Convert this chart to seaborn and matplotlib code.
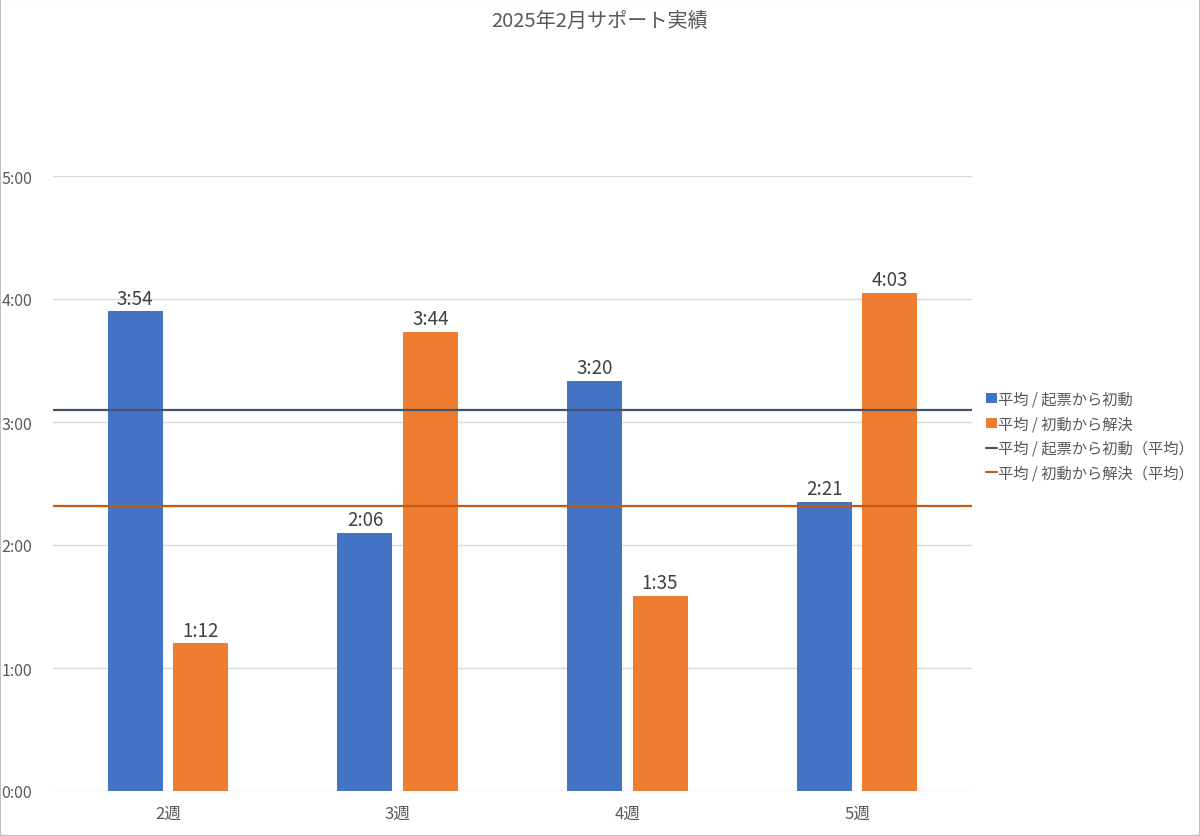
import matplotlib
matplotlib.use("Agg")
import matplotlib.pyplot as plt
import seaborn as sns
import pandas as pd
from matplotlib.ticker import FuncFormatter, MultipleLocator
from matplotlib.patches import Patch, Rectangle
from matplotlib.lines import Line2D

# ---- data (values in minutes, displayed as H:MM) ----
weeks = ["2週", "3週", "4週", "5週"]
series_names = ["平均 / 起票から初動", "平均 / 初動から解決"]
first_response = [234, 126, 200, 141]   # 3:54, 2:06, 3:20, 2:21
resolution = [72, 224, 95, 243]         # 1:12, 3:44, 1:35, 4:03
avg_names = ["平均 / 起票から初動（平均）", "平均 / 初動から解決（平均）"]
avg_values = [186, 139]                 # ~3:06, ~2:19
title = "2025年2月サポート実績"

colors = ["#4472C4", "#ED7D31"]
avg_colors = ["#44546A", "#C55A11"]

sns.set_theme(style="white")
plt.rcParams["font.family"] = ["Noto Sans CJK JP", "DejaVu Sans"]

df = pd.DataFrame({
    "week": weeks * 2,
    "series": [series_names[0]] * 4 + [series_names[1]] * 4,
    "hours": [v / 60 for v in first_response + resolution],
})

fig = plt.figure(figsize=(12, 8.37), dpi=100)
ax = fig.add_axes([53 / 1200, 1 - 792 / 837, (972 - 53) / 1200, (792 - 177) / 837])

sns.barplot(data=df, x="week", y="hours", hue="series", order=weeks,
            hue_order=series_names, palette=colors, width=0.57, gap=0.16,
            saturation=1, errorbar=None, ax=ax, legend=False,
            edgecolor="none")

def fmt(h):
    m = int(round(h * 60))
    return f"{m // 60}:{m % 60:02d}"

for cont, vals in zip(ax.containers, [first_response, resolution]):
    ax.bar_label(cont, labels=[fmt(v / 60) for v in vals], padding=2,
                 fontsize=13.5, color="#404040")

for v, c in zip(avg_values, avg_colors):
    ax.axhline(v / 60, color=c, lw=1.6, zorder=3)

ax.set_xlim(-0.5, 3.5)
ax.set_ylim(0, 5)
ax.yaxis.set_major_locator(MultipleLocator(1))
ax.yaxis.set_major_formatter(FuncFormatter(lambda h, p: fmt(h)))
ax.grid(axis="y", color="#D9D9D9", lw=1)
ax.set_axisbelow(True)
for s in ax.spines.values():
    s.set_visible(False)
ax.tick_params(axis="y", length=0, labelsize=11.5, labelcolor="#595959", pad=15)
ax.tick_params(axis="x", length=0, labelsize=12, labelcolor="#595959", pad=10)
ax.set_xlabel("")
ax.set_ylabel("")

fig.text(0.5, 1 - 21 / 837, title, ha="center", va="center", fontsize=14.5,
         color="#595959")

handles = [
    Patch(facecolor=colors[0], edgecolor="none"),
    Patch(facecolor=colors[1], edgecolor="none"),
    Line2D([0], [0], color=avg_colors[0], lw=1.5),
    Line2D([0], [0], color=avg_colors[1], lw=1.5),
]
leg = fig.legend(handles, series_names + avg_names, loc="center left",
                 bbox_to_anchor=(980 / 1200, 1 - 437 / 837), frameon=False,
                 fontsize=11, handlelength=0.7, handleheight=0.6,
                 handletextpad=0.1, labelspacing=0.5, borderaxespad=0)
for t in leg.get_texts():
    t.set_color("#595959")

fig.patches.append(Rectangle((0, 0), 1, 1, transform=fig.transFigure,
                             fill=False, edgecolor="#BFBFBF", lw=1.5))

fig.savefig("out.png", dpi=100)
